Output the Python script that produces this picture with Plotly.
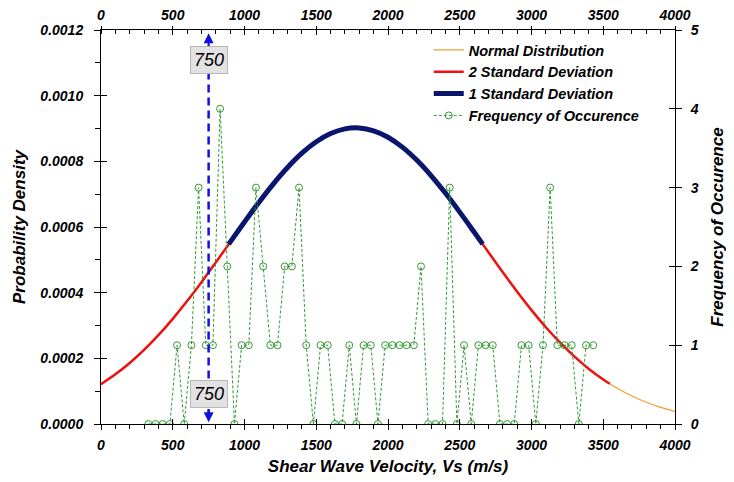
import plotly.graph_objects as go

# ---------------- data ----------------
# Normal distribution curve (Vs in m/s, probability density)
curve_vs = [0, 100, 200, 300, 400, 500, 600, 700, 800, 890, 900, 1000, 1100, 1200,
            1300, 1400, 1500, 1600, 1700, 1800, 1900, 2000, 2100, 2200, 2300, 2400,
            2500, 2600, 2660, 2700, 2800, 2900, 3000, 3100, 3200, 3300, 3400, 3500,
            3545, 3600, 3700, 3800, 3900, 4000]
curve_pdf = [0.0001213, 0.0001512, 0.0001858, 0.0002256, 0.0002705, 0.0003203,
             0.0003743, 0.0004320, 0.0004923, 0.0005477, 0.0005539, 0.0006152,
             0.0006748, 0.0007307, 0.0007812, 0.0008247, 0.0008596, 0.0008846,
             0.0008988, 0.0009016, 0.0008931, 0.0008734, 0.0008433, 0.0008039,
             0.0007568, 0.0007033, 0.0006453, 0.0005847, 0.0005477, 0.0005231,
             0.0004619, 0.0004028, 0.0003469, 0.0002948, 0.0002475, 0.0002051,
             0.0001678, 0.0001356, 0.0001226, 0.0001082, 0.0000852, 0.0000662,
             0.0000508, 0.0000385]
# ranges covered by the highlighted bands
two_sd_range = (0, 3545)
one_sd_range = (890, 2660)

# Frequency of occurrence (bins of 50 m/s)
freq_vs = [330, 380, 430, 480, 530, 580, 630, 680, 730, 780, 830, 880, 930, 980,
           1030, 1080, 1130, 1180, 1230, 1280, 1330, 1380, 1430, 1480, 1530, 1580,
           1630, 1680, 1730, 1780, 1830, 1880, 1930, 1980, 2030, 2080, 2130, 2180,
           2230, 2280, 2330, 2380, 2430, 2480, 2530, 2580, 2630, 2680, 2730, 2780,
           2830, 2880, 2930, 2980, 3030, 3080, 3130, 3180, 3230, 3280, 3330, 3380,
           3430]
freq_count = [0, 0, 0, 0, 1, 0, 1, 3, 1, 1, 4, 2, 0, 1,
              1, 3, 2, 1, 1, 2, 2, 3, 1, 0, 1, 1,
              0, 0, 1, 0, 1, 1, 0, 1, 1, 1, 1, 1,
              2, 0, 0, 0, 3, 0, 1, 0, 1, 1, 1, 0,
              0, 0, 1, 1, 0, 1, 3, 1, 1, 1, 0, 1,
              1]

marker_vs = 750
x_ticks = [0, 500, 1000, 1500, 2000, 2500, 3000, 3500, 4000]
y_ticks = [0.0, 0.0002, 0.0004, 0.0006, 0.0008, 0.0010, 0.0012]
y2_ticks = [0, 1, 2, 3, 4, 5]

# ---------------- figure ----------------
FONT = "Arial, 'Liberation Sans', sans-serif"
BLUE = "#1010e0"
GREEN = "#339933"


def band(lo, hi):
    xs, ys = [], []
    for v, p in zip(curve_vs, curve_pdf):
        if lo <= v <= hi:
            xs.append(v)
            ys.append(p)
    return xs, ys


fig = go.Figure()
fig.add_trace(go.Scatter(x=curve_vs, y=curve_pdf, mode="lines", name="Normal Distribution",
                         line=dict(color="#f0a030", width=1.3, shape="spline")))
x2, y2 = band(*two_sd_range)
fig.add_trace(go.Scatter(x=x2, y=y2, mode="lines", name="2 Standard Deviation",
                         line=dict(color="#ee1111", width=2.5, shape="spline")))
x1, y1 = band(*one_sd_range)
fig.add_trace(go.Scatter(x=x1, y=y1, mode="lines", name="1 Standard Deviation",
                         line=dict(color="#0a156e", width=5, shape="spline")))
fig.add_trace(go.Scatter(x=freq_vs, y=freq_count, mode="lines+markers",
                         name="Frequency of Occurence", yaxis="y2",
                         line=dict(color=GREEN, width=1, dash="3px,2px"),
                         marker=dict(symbol="circle-open", size=7, color=GREEN,
                                     line=dict(width=1, color=GREEN))))

# vertical marker line at 750 m/s
fig.add_shape(type="line", x0=marker_vs, x1=marker_vs, y0=0.00002, y1=0.00116,
              xref="x", yref="y", line=dict(color=BLUE, width=2.5, dash="8px,5px"))
for head, tail in [(0.00119, 0.00114), (0.000005, 0.00005)]:
    fig.add_annotation(x=marker_vs, y=head, ax=marker_vs, ay=tail, xref="x", yref="y",
                       axref="x", ayref="y", text="", showarrow=True, arrowhead=2,
                       arrowsize=1, arrowwidth=2, arrowcolor=BLUE)
for ypos in [0.001109, 0.0000914]:
    fig.add_annotation(x=marker_vs, y=ypos, xref="x", yref="y", text=str(marker_vs),
                       showarrow=False, bgcolor="#e2e2e2", bordercolor="#b8b8b8",
                       borderwidth=1, borderpad=3,
                       font=dict(family=FONT, size=18, color="black", style="italic"))

tickfont = dict(family=FONT, size=14, color="black", weight="bold", style="italic")
titlefont = dict(family=FONT, size=17, color="black", weight="bold", style="italic")

common = dict(showgrid=False, zeroline=False, automargin=False, tickcolor="black",
              linecolor="black", linewidth=1)

fig.update_layout(
    width=734, height=482,
    margin=dict(l=93, r=67, t=22, b=66, autoexpand=False),
    paper_bgcolor="white", plot_bgcolor="white",
    showlegend=True,
    legend=dict(x=0.571, y=0.99, xanchor="left", yanchor="top",
                bgcolor="rgba(0,0,0,0)", tracegroupgap=0,
                font=dict(family=FONT, size=14.5, color="black", weight="bold", style="italic")),
    xaxis=dict(range=[0, 4000], tickvals=x_ticks, ticks="outside", ticklen=5,
               showline=True, tickfont=tickfont, ticklabelstandoff=3,
               minor=dict(dtick=100, ticks="outside", ticklen=4, tickcolor="black"),
               title=dict(text="Shear Wave Velocity, Vs (m/s)", font=titlefont, standoff=8),
               **common),
    xaxis2=dict(range=[0, 4000], tickvals=x_ticks, overlaying="x", side="top",
                ticks="outside", ticklen=3, showline=True, tickfont=tickfont,
                minor=dict(dtick=100, ticks="inside", ticklen=4, tickcolor="black"),
                **common),
    xaxis3=dict(range=[0, 4000], tickvals=x_ticks, overlaying="x", side="bottom",
                ticks="inside", ticklen=5, showline=False, showticklabels=False, **common),
    xaxis4=dict(range=[0, 4000], tickvals=x_ticks, overlaying="x", side="top",
                ticks="inside", ticklen=5, showline=False, showticklabels=False, **common),
    yaxis=dict(range=[0, 0.0012], tickvals=y_ticks, tickformat=".4f", ticks="outside",
               ticklen=6, showline=True, tickfont=tickfont, ticklabelstandoff=8,
               minor=dict(dtick=0.0001, ticks="outside", ticklen=5, tickcolor="black"),
               title=dict(text="Probability Density", font=titlefont, standoff=10),
               **common),
    yaxis2=dict(range=[0, 5], tickvals=y2_ticks, overlaying="y", side="right",
                ticks="outside", ticklen=6, showline=True, tickfont=tickfont,
                ticklabelstandoff=6,
                title=dict(text="Frequency of Occurence", font=titlefont, standoff=13),
                **common),
    yaxis3=dict(range=[0, 0.0012], tickvals=y_ticks, overlaying="y", side="left",
                ticks="inside", ticklen=6, showline=False, showticklabels=False, **common),
    yaxis4=dict(range=[0, 5], tickvals=y2_ticks, overlaying="y", side="right",
                ticks="inside", ticklen=6, showline=False, showticklabels=False, **common),
)
# empty traces so that the extra axes are drawn
for xa, ya in [("x2", "y"), ("x3", "y3"), ("x4", "y4")]:
    fig.add_trace(go.Scatter(x=[None], y=[None], xaxis=xa, yaxis=ya,
                             showlegend=False, hoverinfo="skip"))

fig.write_html("out.html")
